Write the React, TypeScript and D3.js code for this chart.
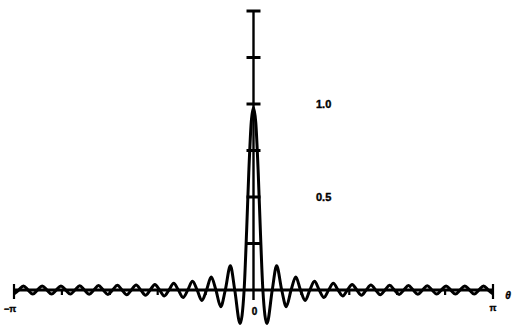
import React from "react";
import * as d3 from "d3";

// Kernel curve for theta >= 0: zero crossings and lobe extremes (radians, value).
// The curve is symmetric about theta = 0, so the left half mirrors these points.
const mainLobeTheta = [0, 0.03, 0.062, 0.09];
const mainLobeValue = [0.98, 0.9, 0.63, 0.32];

const zeroTheta = [
  0.123, 0.246, 0.37, 0.493, 0.616, 0.739, 0.862, 0.986, 1.109, 1.232, 1.355, 1.478,
  1.602, 1.725, 1.848, 1.971, 2.094, 2.218, 2.341, 2.464, 2.587, 2.71, 2.834, 2.957, 3.08,
];
const lobeTheta = [
  0.176, 0.303, 0.43, 0.555, 0.678, 0.8, 0.924, 1.047, 1.17, 1.294, 1.417, 1.54,
  1.663, 1.786, 1.91, 2.033, 2.156, 2.279, 2.402, 2.526, 2.649, 2.772, 2.895, 3.018, 3.1416,
];
const lobeValue = [
  -0.18, 0.13, -0.09, 0.07, -0.056, 0.047, -0.04, 0.036, -0.032, 0.03, -0.028, 0.027,
  -0.026, 0.025, -0.024, 0.024, -0.023, 0.023, -0.022, 0.022, -0.022, 0.022, -0.022, 0.022, -0.021,
];

const xTickSteps = [-5, -4, -3, -2, -1, 1, 2, 3, 4, 5]; // multiples of pi/5
const yTicks = [0.25, 0.5, 0.75, 1.0, 1.25, 1.5];
const yLabels = [
  { v: 1.0, text: "1.0" },
  { v: 0.5, text: "0.5" },
];

const W = 514;
const H = 327;

export default function App() {
  const x = d3.scaleLinear().domain([-Math.PI, Math.PI]).range([14, 493]);
  const y = d3.scaleLinear().domain([0, 1]).range([290, 104]);

  const right: [number, number][] = [];
  mainLobeTheta.forEach((t, i) => right.push([t, mainLobeValue[i]]));
  zeroTheta.forEach((t, i) => {
    right.push([t, 0]);
    right.push([lobeTheta[i], lobeValue[i]]);
  });
  right.sort((a, b) => a[0] - b[0]);
  const left = right
    .filter((p) => p[0] > 0)
    .map((p) => [-p[0], p[1]] as [number, number])
    .reverse();
  const pts = [...left, ...right];

  const line = d3
    .line<[number, number]>()
    .x((d) => x(d[0]))
    .y((d) => y(d[1]))
    .curve(d3.curveMonotoneX);

  const x0 = x(0);
  const yAxis = y(0);
  const font = "'Liberation Sans', Arial, sans-serif";
  const textStyle = { stroke: "#000", strokeWidth: 0.4 };

  return (
    <svg
      width={W}
      height={H}
      style={{ position: "absolute", left: 0, top: 0, background: "#fff" }}
    >
      {/* horizontal axis */}
      <line x1={x(-Math.PI)} x2={x(Math.PI)} y1={yAxis} y2={yAxis} stroke="#000" strokeWidth={2.8} />
      {xTickSteps.map((k) => {
        const end = Math.abs(k) === 5;
        return (
          <line
            key={k}
            x1={x((k * Math.PI) / 5)}
            x2={x((k * Math.PI) / 5)}
            y1={end ? yAxis - 6 : yAxis}
            y2={end ? yAxis + 9 : yAxis + 5}
            stroke="#000"
            strokeWidth={2.2}
          />
        );
      })}

      {/* vertical axis with cross ticks */}
      <line x1={x0} x2={x0} y1={y(1.5)} y2={yAxis + 10} stroke="#000" strokeWidth={2.4} />
      {yTicks.map((v) => (
        <line key={v} x1={x0 - 7} x2={x0 + 7} y1={y(v)} y2={y(v)} stroke="#000" strokeWidth={3} />
      ))}

      {/* kernel curve */}
      <path d={line(pts) ?? ""} fill="none" stroke="#000" strokeWidth={3} strokeLinejoin="round" />

      {/* labels */}
      {yLabels.map((l) => (
        <text key={l.text} x={316} y={y(l.v) + 4} fontFamily={font} fontWeight="bold" fontSize={11} style={textStyle}>
          {l.text}
        </text>
      ))}
      <text x={10} y={312} fontFamily={font} fontWeight="bold" fontSize={9} textAnchor="middle" style={textStyle}>
        −π
      </text>
      <text x={493} y={311} fontFamily={font} fontWeight="bold" fontSize={9} textAnchor="middle" style={textStyle}>
        π
      </text>
      <text x={508} y={299} fontFamily={font} fontWeight="bold" fontStyle="italic" fontSize={10} textAnchor="middle" style={textStyle}>
        θ
      </text>
      <text x={x0 + 1} y={315} fontFamily={font} fontWeight="bold" fontSize={10} textAnchor="middle" style={textStyle}>
        0
      </text>
    </svg>
  );
}
